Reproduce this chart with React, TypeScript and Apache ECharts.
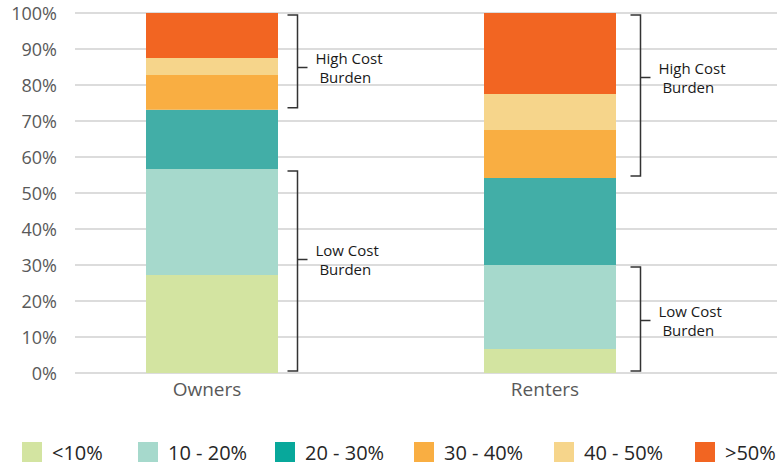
import React, { useEffect, useRef } from "react";
import * as echarts from "echarts";

const categories = ["Owners", "Renters"];
const buckets = ["<10%", "10 - 20%", "20 - 30%", "30 - 40%", "40 - 50%", ">50%"];
const ownersShare = [27.2, 29.5, 16.4, 9.7, 4.7, 12.5];
const rentersShare = [6.7, 23.3, 24.2, 13.3, 10.0, 22.5];
const yTicks = [0, 10, 20, 30, 40, 50, 60, 70, 80, 90, 100];
const bracketLabels = ["Low Cost\n Burden", "High Cost\n Burden"];
// where each bracket's pointer sits (in % units): [low, high] per category
const ownersMarks = [31.7, 85];
const rentersMarks = [14.7, 82.2];

const barColors = ["#d3e4a1", "#a6d9cc", "#42aea7", "#f9ae42", "#f6d58b", "#f26522"];
const legendColors = ["#d3e4a1", "#a6d9cc", "#08a89b", "#f9ae42", "#f6d58b", "#f26522"];
const legendLeft = [22, 138, 275, 414, 554, 695];
const bracketOffset = [19, 24];

const FONT = "'Open Sans', 'Noto Sans', sans-serif";

function sum(a: number[], n: number) {
  let s = 0;
  for (let i = 0; i < n; i++) s += a[i];
  return s;
}

export default function App() {
  const ref = useRef<HTMLDivElement>(null);
  useEffect(() => {
    if (!ref.current) return;
    const chart = echarts.init(ref.current, undefined, { renderer: "svg" });
    const shares = [ownersShare, rentersShare];
    const marks = [ownersMarks, rentersMarks];
    const bracketData: any[] = [];
    const bracketText: string[] = [];
    shares.forEach((s, ci) => {
      bracketData.push([ci, 0, sum(s, 2), marks[ci][0]]);
      bracketText.push(bracketLabels[0]);
      bracketData.push([ci, sum(s, 3), 100, marks[ci][1]]);
      bracketText.push(bracketLabels[1]);
    });

    const option: any = {
      animation: false,
      textStyle: { fontFamily: FONT },
      grid: [
        { left: 75, right: 2, top: 13, bottom: 95 },
        { left: 43, width: 676, top: 13, bottom: 95 },
      ],
      xAxis: [
        { gridIndex: 0, type: "value", min: 0, max: 1, show: false },
        {
          gridIndex: 1,
          type: "category",
          data: categories,
          axisLine: { show: false },
          axisTick: { show: false },
          axisLabel: {
            color: "#595959",
            fontSize: 19,
            fontFamily: FONT,
            margin: 6,
            padding: [0, 10, 0, 0],
          },
        },
      ],
      yAxis: [
        {
          gridIndex: 0,
          type: "value",
          min: 0,
          max: 100,
          interval: 10,
          axisLine: { show: false },
          axisTick: { show: false },
          axisLabel: {
            color: "#595959",
            fontSize: 18,
            fontFamily: FONT,
            margin: 18,
            formatter: (v: number) => (yTicks.indexOf(v) >= 0 ? v + "%" : ""),
          },
          splitLine: { lineStyle: { color: "#d0d0d0", width: 1.5 } },
        },
        { gridIndex: 1, type: "value", min: 0, max: 100, show: false },
      ],
      legend: buckets.map((b, i) => ({
        data: [{ name: b, itemStyle: { color: legendColors[i] } }],
        left: legendLeft[i],
        top: 442,
        padding: 0,
        itemWidth: 20,
        itemHeight: 20,
        icon: "rect",
        selectedMode: false,
        textStyle: {
          color: "#262626",
          fontSize: 20,
          fontFamily: FONT,
          padding: [0, 0, 0, 5],
        },
      })),
      series: [
        ...buckets.map((b, i) => ({
          name: b,
          type: "bar",
          stack: "total",
          xAxisIndex: 1,
          yAxisIndex: 1,
          barWidth: 132,
          itemStyle: { color: barColors[i] },
          data: [ownersShare[i], rentersShare[i]],
        })),
        {
          type: "custom",
          xAxisIndex: 1,
          yAxisIndex: 1,
          silent: true,
          z: 5,
          data: bracketData,
          renderItem: (params: any, api: any) => {
            const ci = api.value(0);
            const cx = api.coord([ci, 0])[0];
            const lx = Math.round(cx + 66 + bracketOffset[ci]) + 0.5;
            const yBot = api.coord([ci, api.value(1)])[1] - 2;
            const yTop = api.coord([ci, api.value(2)])[1] + 2;
            const yMark = Math.round(api.coord([ci, api.value(3)])[1]) + 0.5;
            const lineStyle = { stroke: "#333333", lineWidth: 1.5, fill: null };
            const lines = bracketText[params.dataIndex].split("\n");
            return {
              type: "group",
              children: [
                {
                  type: "polyline",
                  shape: {
                    points: [
                      [lx - 10, yTop],
                      [lx, yTop],
                      [lx, yBot],
                      [lx - 10, yBot],
                    ],
                  },
                  style: lineStyle,
                },
                {
                  type: "line",
                  shape: { x1: lx, y1: yMark, x2: lx + 10, y2: yMark },
                  style: lineStyle,
                },
                ...lines.map((t, k) => ({
                  type: "text",
                  x: lx + 18,
                  y: yMark - 10 + k * 19,
                  style: {
                    text: t,
                    fill: "#1a1a1a",
                    font: "15px " + FONT,
                    align: "left",
                    verticalAlign: "middle",
                  },
                })),
              ],
            };
          },
        },
      ],
    };
    chart.setOption(option);
    return () => chart.dispose();
  }, []);
  return <div ref={ref} style={{ width: 779, height: 468, position: "absolute", left: 0, top: 0 }} />;
}
